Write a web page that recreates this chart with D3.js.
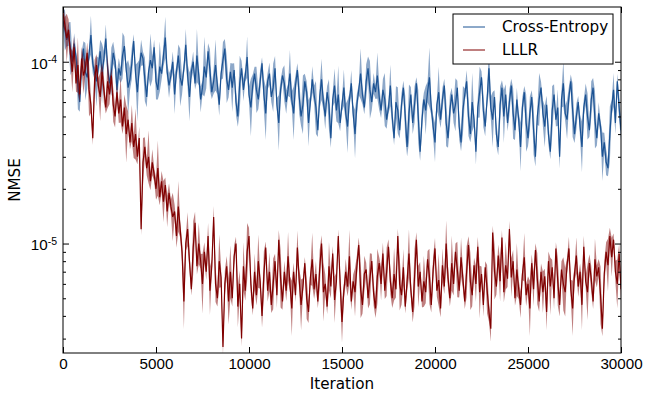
<!DOCTYPE html>
<html>
<head>
<meta charset="utf-8">
<script src="https://cdn.jsdelivr.net/npm/d3@7"></script>
<style>
  body { margin: 0; background: #fff; }
  svg { font-family: "DejaVu Sans", sans-serif; }
</style>
</head>
<body>
<div id="chart"></div>
<script>
// NMSE values, in units of 1e-6, sampled every 100 iterations (0..30000)
const iterStep = 100;

const crossEntropy = [
  168,150,132,142,118,100,126,106,74,60,96,118,88,82,110,140,98,86,78,94,114,86,104,134,92,76,88,112,100,70,
  92,84,108,122,90,72,80,98,130,86,68,92,112,104,80,64,88,102,92,120,78,70,94,86,108,136,88,74,84,100,
  66,88,108,82,74,92,124,84,64,88,100,76,108,84,62,72,94,82,114,90,68,78,96,74,58,86,102,118,80,70,
  88,72,90,60,50,76,92,70,84,106,66,56,74,86,70,62,78,98,66,52,78,86,64,72,92,58,46,70,84,76,
  60,70,86,62,52,74,90,64,50,58,78,68,46,60,80,66,56,42,64,80,60,50,68,58,38,62,74,54,66,46,
  58,72,52,44,62,76,52,40,58,70,86,66,56,78,92,70,60,76,68,84,64,54,70,62,48,56,74,50,38,60,
  54,42,58,72,50,34,52,66,46,58,76,50,32,48,62,54,68,82,56,44,36,58,68,48,62,74,46,38,54,66,
  52,58,72,44,36,54,66,78,50,40,60,48,32,56,68,82,54,44,62,92,56,48,64,40,34,58,72,50,66,46,
  60,74,52,42,62,48,34,56,68,46,38,52,64,42,30,50,62,72,52,44,58,40,32,54,66,48,56,30,62,76,
  52,48,64,78,54,40,50,60,44,34,56,66,50,42,62,72,48,38,52,44,30,36,28,26,40,56,70,46,78,56,
  42
];

const lllr = [
  185,160,135,150,110,88,120,76,96,66,104,84,92,112,70,58,38,80,96,74,64,88,70,56,78,66,84,58,50,68,
  52,62,44,56,40,48,36,46,34,40,30,38,12,28,34,26,30,22,28,24,20,26,18,22,17,21,15,19,16,14,
  15,11,16,12,9,4.8,10,12,8,5.6,9.5,13,7.5,10,8,6,9,7,11,5.5,7.5,14,6,5,8,6.5,2.7,6,7.5,4.8,
  7,5,8.5,10,4.5,6,3,7.5,5.5,9,11,6,4.4,7,5.2,8,6.2,4,6.8,9.5,5.5,7,4.6,6,8,5.2,10.5,6.4,4.8,7,
  5.5,8.5,6,4.4,7,5.2,9.5,6.3,4.6,5.8,7.8,5,4.2,6.5,8.2,5.6,6.8,4.8,7.2,10,5.4,6,4.5,7.5,5.8,8.8,4.9,6.2,11,6,
  3.7,5.5,7,5.8,8.5,4.8,6.2,5.4,7.5,9.8,5.6,4.6,6.8,7.2,5,6.4,8,5.3,4.4,6.6,7.8,6,8.8,5.5,7,9.6,6.2,5,6.8,5.6,
  11,6,5.2,7.4,4.5,6.2,8.8,5.6,4.2,6.5,10.5,5.8,7,4.8,6.2,5.4,8.2,6.6,4.6,7.2,9.4,5.5,6.3,4.4,7.6,5.8,10,6.5,5,7.8,
  6,9,7.2,5.5,8.4,6.4,4.8,7,9.8,6.2,5.2,7.6,6,9.6,5.4,6.8,4.6,7.4,5.6,4.2,3.4,11.5,7,5.8,8.6,6.2,10.8,5.4,7.6,6.4,
  12,6.5,8,5,7.2,5.6,4.6,6.8,8.4,5.2,6,4.4,7.8,5.6,9.2,6.4,4.8,7,5.4,6.6,4.2,8,5.8,7.4,5,9.4,6.2,4.6,7.2,6,
  5.4,7.6,9.4,5.6,4.4,6.8,8.6,5.8,7,4.6,9.6,6.2,5.4,7.8,6.4,4.8,8.2,6.6,7.4,5.2,3.4,6.8,9,7.6,11,8.4,10.5,7,6,8.8,
  5.6
];

// half-width of the shaded band around each line, percent
const crossEntropySpread = [
  12,30,9,16,40,11,14,8,35,13,18,10,44,15,9,28,14,8,38,12,16,46,10,20,13,8,36,15,11,24,
  14,10,34,13,8,42,15,22,9,12,45,11,18,9,32,14,8,40,16,10,26,13,38,8,15,30,11,17,9,14,
  28,9,15,44,12,8,22,16,36,10,14,8,40,13,18,9,46,15,11,30,9,17,38,12,15,8,26,13,35,10,
  12,36,9,18,14,42,10,15,8,30,11,44,15,9,34,13,16,8,22,40,11,15,7,36,17,9,42,13,9,26,
  16,8,35,11,40,14,9,24,13,45,10,15,34,8,18,12,40,9,15,30,11,18,8,38,13,10,24,15,44,11,
  9,26,13,40,8,18,11,36,15,7,38,13,9,24,16,44,11,14,9,34,18,10,15,40,12,8,30,15,9,22,
  34,11,16,9,30,13,44,10,15,26,8,40,12,18,9,36,14,46,10,15,28,8,38,11,16,9,34,13,22,9,
  13,40,9,18,12,36,8,15,28,11,45,9,18,14,38,8,24,13,10,34,15,42,9,16,11,26,10,40,14,11,
  18,9,38,13,16,10,36,15,8,44,11,24,9,36,13,11,40,8,18,30,12,15,10,36,14,9,26,16,11,34,
  10,28,14,9,40,12,18,8,16,38,11,15,34,9,26,13,44,10,15,8,36,13,18,11,42,10,24,15,10,18,
  14
];

const lllrSpread = [
  18,10,36,14,9,30,15,11,42,10,16,26,8,14,40,11,9,28,15,10,36,12,18,8,40,13,10,24,15,11,
  13,34,10,18,44,11,9,26,15,38,10,16,8,36,13,10,40,12,18,9,15,42,11,14,30,10,22,13,9,36,
  9,16,38,11,14,42,10,24,13,8,40,15,11,30,10,46,13,11,18,36,9,15,26,11,40,13,10,18,14,34,
  40,11,15,9,30,18,10,36,13,44,11,15,9,26,14,40,10,16,34,8,15,28,11,38,10,18,13,44,11,15,
  14,36,10,42,12,9,24,15,38,11,8,30,15,10,40,13,18,9,28,11,45,13,10,36,16,10,34,12,9,18,
  30,10,18,13,40,11,9,36,15,10,44,12,26,9,14,38,10,16,13,42,8,24,15,11,36,10,18,13,40,11,
  10,40,13,26,9,15,36,11,14,44,10,30,13,8,38,15,11,42,10,18,14,8,40,12,24,10,34,15,11,42,
  16,11,42,9,28,14,10,38,12,44,15,10,26,13,40,10,16,8,36,13,18,9,42,11,15,30,10,14,36,11,
  11,28,15,10,40,13,18,8,36,15,10,42,12,24,9,38,14,11,30,10,26,13,44,10,15,8,36,16,11,40,
  36,10,16,13,42,9,26,14,11,38,15,8,42,12,18,10,30,15,11,44,10,18,13,40,11,28,8,15,36,13,
  16
];

const seriesNames = ["Cross-Entropy", "LLLR"];
const seriesColors = ["#1b5293", "#800000"];

const xTicks = [0, 5000, 10000, 15000, 20000, 25000, 30000];
const yMajorTicks = [1e-5, 1e-4];
const yMajorExp = ["-5", "-4"];
const yMinorTicks = [3e-6, 4e-6, 5e-6, 6e-6, 7e-6, 8e-6, 9e-6,
  2e-5, 3e-5, 4e-5, 5e-5, 6e-5, 7e-5, 8e-5, 9e-5];

const width = 651, height = 399;
const margin = {top: 7, right: 30, bottom: 46, left: 63};
const w = width - margin.left - margin.right;
const h = height - margin.top - margin.bottom;

const svg = d3.select("#chart").append("svg")
    .attr("width", width)
    .attr("height", height);

const g = svg.append("g")
    .attr("transform", `translate(${margin.left},${margin.top})`);

const x = d3.scaleLinear().domain([0, 30000]).range([0, w]);
const y = d3.scaleLog().domain([2.5e-6, 2e-4]).range([h, 0]);

svg.append("defs").append("clipPath").attr("id", "clip")
  .append("rect").attr("width", w).attr("height", h);

function toRows(vals, spread) {
    return vals.map((v, i) => {
        const s = 1 + spread[i] / 100;
        return {it: i * iterStep, v: v * 1e-6, lo: v * 1e-6 / s, hi: v * 1e-6 * s};
    });
}

const allSeries = [toRows(crossEntropy, crossEntropySpread), toRows(lllr, lllrSpread)];

const area = d3.area()
    .x(d => x(d.it))
    .y0(d => y(d.lo))
    .y1(d => y(d.hi));

const line = d3.line()
    .x(d => x(d.it))
    .y(d => y(d.v));

const plot = g.append("g").attr("clip-path", "url(#clip)");

allSeries.forEach((rows, i) => {
    plot.append("path")
        .datum(rows)
        .attr("d", area)
        .attr("fill", seriesColors[i])
        .attr("fill-opacity", 0.5)
        .attr("stroke", "none");
    plot.append("path")
        .datum(rows)
        .attr("d", line)
        .attr("fill", "none")
        .attr("stroke", seriesColors[i])
        .attr("stroke-width", 1.2);
});

// axes, ticks pointing inward like matplotlib classic
const fs = 15.2;

const xb = g.append("g")
    .attr("transform", `translate(0,${h})`)
    .call(d3.axisBottom(x).tickValues(xTicks).tickSize(-6).tickPadding(5).tickFormat(d3.format("d")));
g.append("g")
    .call(d3.axisTop(x).tickValues(xTicks).tickSize(-6).tickFormat(""));

const yl = g.append("g")
    .call(d3.axisLeft(y).tickValues(yMajorTicks).tickSize(-6).tickPadding(6).tickFormat(""));
g.append("g")
    .call(d3.axisLeft(y).tickValues(yMinorTicks).tickSize(-3).tickFormat(""));
g.append("g")
    .attr("transform", `translate(${w},0)`)
    .call(d3.axisRight(y).tickValues(yMajorTicks).tickSize(-6).tickFormat(""));
g.append("g")
    .attr("transform", `translate(${w},0)`)
    .call(d3.axisRight(y).tickValues(yMinorTicks).tickSize(-3).tickFormat(""));

g.selectAll(".domain").remove();
g.selectAll(".tick line").attr("stroke", "#000");

xb.selectAll("text")
    .attr("fill", "#000")
    .style("font-size", fs + "px");

yl.selectAll(".tick text").each(function(d, i) {
    const t = d3.select(this)
        .attr("fill", "#000")
        .attr("x", -6)
        .attr("dy", "0.42em")
        .style("font-size", fs + "px");
    t.append("tspan").text("10");
    t.append("tspan")
        .attr("dy", "-0.55em")
        .style("font-size", "10.5px")
        .text(yMajorExp[i]);
});

// frame
g.append("rect")
    .attr("width", w)
    .attr("height", h)
    .attr("fill", "none")
    .attr("stroke", "#000")
    .attr("stroke-width", 1);

// axis labels
svg.append("text")
    .attr("x", margin.left + w / 2)
    .attr("y", 389)
    .attr("text-anchor", "middle")
    .style("font-size", fs + "px")
    .text("Iteration");

svg.append("text")
    .attr("transform", `translate(20,${margin.top + h / 2}) rotate(-90)`)
    .attr("text-anchor", "middle")
    .style("font-size", fs + "px")
    .text("NMSE");

// legend
const lg = svg.append("g").attr("transform", "translate(453,14)");
lg.append("rect")
    .attr("width", 160)
    .attr("height", 50)
    .attr("fill", "#fff")
    .attr("stroke", "#000")
    .attr("stroke-width", 1);
seriesNames.forEach((name, i) => {
    const yy = 13 + i * 23;
    lg.append("line")
        .attr("x1", 10).attr("x2", 32)
        .attr("y1", yy).attr("y2", yy)
        .attr("stroke", seriesColors[i])
        .attr("stroke-width", 1);
    lg.append("text")
        .attr("x", 49)
        .attr("y", yy + 5)
        .style("font-size", fs + "px")
        .text(name);
});
</script>
</body>
</html>
